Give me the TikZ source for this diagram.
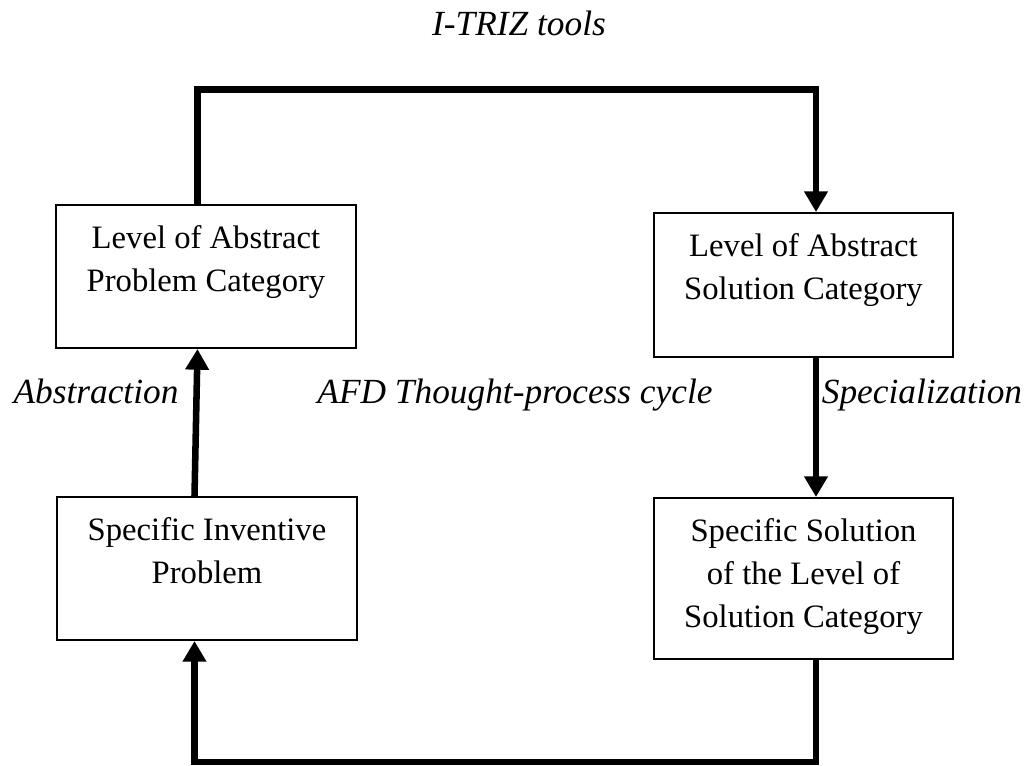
\documentclass[tikz,border=0pt]{standalone}
\usepackage{fontspec}
\setmainfont{Liberation Serif}
\usetikzlibrary{arrows.meta,calc}
\begin{document}
\begin{tikzpicture}[x=0.75pt,y=-0.75pt,
  box/.style={draw,line width=1.5pt,rectangle,inner sep=0pt},
  boxtext/.style={align=center,font=\fontsize{24.5}{32.3}\selectfont,inner sep=0pt,anchor=north},
  lbl/.style={font=\fontsize{26.5}{30}\selectfont\itshape,inner sep=0pt,anchor=base},
  conn/.style={line width=4.9pt,line join=miter,line cap=butt},
  arr/.style={conn,-{Triangle[width=17pt,length=15.5pt]}}]
\useasboundingbox (0,0) rectangle (1030,765);

% boxes
\node[box,minimum width=225pt,minimum height=107.25pt] (b1) at (206,276.5) {};
\node[box,minimum width=224.25pt,minimum height=108pt] (b2) at (803.5,285) {};
\node[box,minimum width=225pt,minimum height=107.25pt] (b3) at (207,568.5) {};
\node[box,minimum width=224.25pt,minimum height=120.75pt] (b4) at (803.5,578.5) {};

% box texts
\node[boxtext] (t1) at ($(b1.north)+(0,21)$) {Level of Abstract\\Problem Category};
\node[boxtext] (t2) at ($(b2.north)+(0,21)$) {Level of Abstract\\Solution Category};
\node[boxtext] (t3) at ($(b3.north)+(0,21)$) {Specific Inventive\\Problem};
\node[boxtext] (t4) at ($(b4.north)+(0,21)$) {Specific Solution\\of the Level of\\Solution Category};

% labels
\node[lbl] (title) at (519,35) {I-TRIZ tools};
\node[lbl] (abs) at (96,403) {Abstraction};
\node[lbl] (afd) at (515,403) {AFD Thought-process cycle};
\node[lbl] (spec) at (922,403) {Specialization};

% corner coordinates
\coordinate (tl) at (197.5,89.5);
\coordinate (tr) at (816,89.5);
\coordinate (bl) at (194.5,762);
\coordinate (br) at (816,762);

% connectors
\draw[arr] (b1.north -| tl) -- (tl) -- (tr) -- (b2.north -| tr);
\draw[arr] ($(b3.north -| bl)$) -- ($(b1.south -| tl)$);
\draw[arr] (b2.south -| tr) -- (b4.north -| tr);
\draw[arr] (b4.south -| br) -- (br) -- (bl) -- (b3.south -| bl);
\end{tikzpicture}
\end{document}
